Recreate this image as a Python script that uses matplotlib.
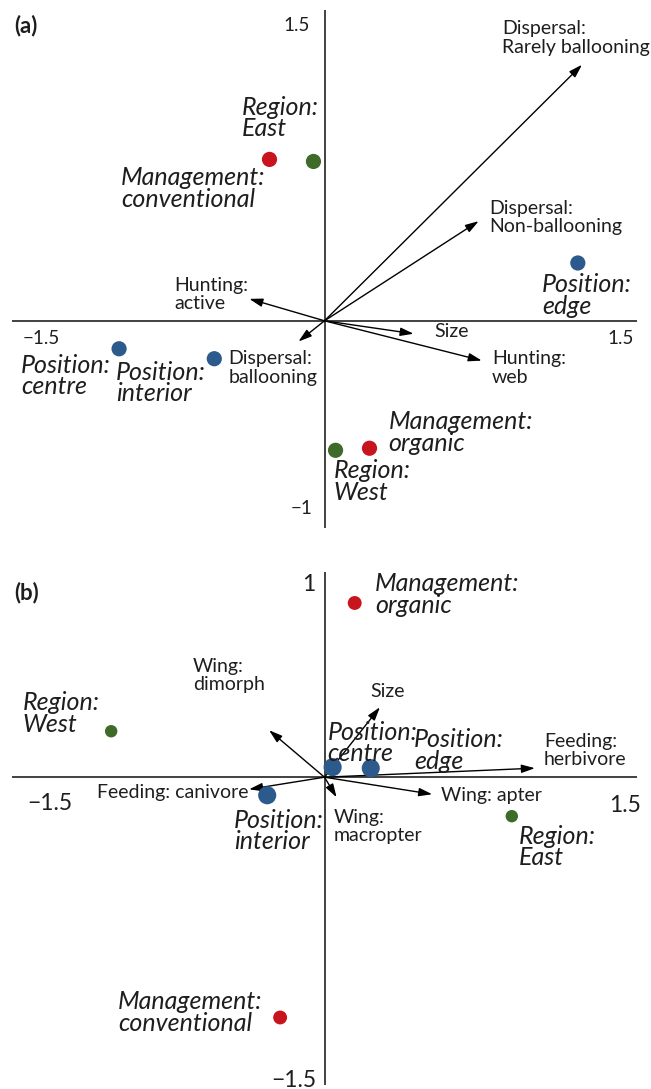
import matplotlib
import matplotlib.pyplot as plt

matplotlib.rcParams['font.family'] = ['Lato', 'DejaVu Sans']

RED = '#c8141c'
GREEN = '#3e6a2a'
BLUE = '#2c5a8c'
TXT = '#1e1e1e'

# ---- panel (a): spiders ----
a_pt_names = ["Management: conventional", "Region: East", "Position: edge",
              "Position: centre", "Position: interior", "Region: West",
              "Management: organic"]
a_pt_x = [-0.264, -0.053, 1.216, -0.986, -0.529, 0.053, 0.216]
a_pt_y = [0.779, 0.769, 0.279, -0.135, -0.183, -0.625, -0.615]
a_pt_col = [RED, GREEN, BLUE, BLUE, BLUE, GREEN, RED]

a_arr_names = ["Dispersal: Rarely ballooning", "Dispersal: Non-ballooning",
               "Hunting: active", "Dispersal: ballooning", "Size", "Hunting: web"]
a_arr_x = [1.236, 0.740, -0.361, -0.125, 0.428, 0.755]
a_arr_y = [1.236, 0.481, 0.106, -0.100, -0.0625, -0.192]

# ---- panel (b): carabids ----
b_pt_names = ["Management: organic", "Region: West", "Position: centre",
              "Position: edge", "Position: interior", "Region: East",
              "Management: conventional"]
b_pt_x = [0.145, -1.024, 0.039, 0.222, -0.275, 0.899, -0.213]
b_pt_y = [0.849, 0.224, 0.049, 0.044, -0.088, -0.190, -1.171]
b_pt_col = [RED, GREEN, BLUE, BLUE, BLUE, GREEN, RED]
b_pt_size = [100, 80, 170, 170, 170, 80, 100]

b_arr_names = ["Size", "Wing: dimorph", "Feeding: herbivore",
               "Feeding: canivore", "Wing: apter", "Wing: macropter"]
b_arr_x = [0.266, -0.266, 1.010, -0.362, 0.517, 0.058]
b_arr_y = [0.341, 0.229, 0.044, -0.059, -0.083, -0.098]

# label layout (x, y, text, italic, ha)
a_labels = [
    (0.851, 1.365, "Dispersal:\nRarely ballooning", False, 'left'),
    (-0.399, 0.978, "Region:\nEast", True, 'left'),
    (-0.976, 0.639, "Management:\nconventional", True, 'left'),
    (0.793, 0.498, "Dispersal:\nNon-ballooning", False, 'left'),
    (1.043, 0.123, "Position:\nedge", True, 'left'),
    (-0.721, 0.127, "Hunting:\nactive", False, 'left'),
    (0.529, -0.053, "Size", False, 'left'),
    (0.803, -0.228, "Hunting:\nweb", False, 'left'),
    (-0.462, -0.228, "Dispersal:\nballooning", False, 'left'),
    (-1.457, -0.267, "Position:\ncentre", True, 'left'),
    (-1.0, -0.300, "Position:\ninterior", True, 'left'),
    (0.308, -0.538, "Management:\norganic", True, 'left'),
    (0.043, -0.776, "Region:\nWest", True, 'left'),
]
a_ticks = [(-0.072, 1.423, "1.5", 'right'), (-0.06, -0.904, "\u22121", 'right'),
           (-1.447, -0.087, "\u22121.5", 'left'), (1.486, -0.087, "1.5", 'right')]

b_labels = [
    (0.242, 0.890, "Management:\norganic", True, 'left'),
    (-1.449, 0.310, "Region:\nWest", True, 'left'),
    (-0.633, 0.495, "Wing:\ndimorph", False, 'left'),
    (0.222, 0.420, "Size", False, 'left'),
    (0.014, 0.166, "Position:\ncentre", True, 'left'),
    (0.430, 0.129, "Position:\nedge", True, 'left'),
    (1.053, 0.129, "Feeding:\nherbivore", False, 'left'),
    (-0.367, -0.073, "Feeding: canivore", False, 'right'),
    (-0.435, -0.261, "Position:\ninterior", True, 'left'),
    (0.043, -0.241, "Wing:\nmacropter", False, 'left'),
    (0.560, -0.088, "Wing: apter", False, 'left'),
    (0.932, -0.339, "Region:\nEast", True, 'left'),
    (-0.990, -1.146, "Management:\nconventional", True, 'left'),
]
b_ticks = [(-0.043, 0.941, "1", 'right'), (-0.04, -1.478, "\u22121.5", 'right'),
           (-1.425, -0.130, "\u22121.5", 'left'), (1.517, -0.137, "1.5", 'right')]

fig = plt.figure(figsize=(6.51, 10.89), dpi=100)
ax_a = fig.add_axes([12/651, 1 - 528/1089, 625/651, 518/1089])
ax_b = fig.add_axes([12/651, 1 - 1085/1089, 625/651, 513/1089])


def draw(ax, ylim, px, py, pc, ps, ax_x, ax_y, labels, ticks, tick_fs):
    ax.set_xlim(-1.5, 1.5)
    ax.set_ylim(*ylim)
    ax.axis('off')
    ax.axhline(0, color='#333333', lw=1.3, zorder=1)
    ax.axvline(0, color='#333333', lw=1.3, zorder=1)
    for x, y in zip(ax_x, ax_y):
        ax.annotate('', xy=(x, y), xytext=(0, 0),
                    arrowprops=dict(arrowstyle='-|>,head_length=0.8,head_width=0.25',
                                    color='black', lw=1.0, shrinkA=0, shrinkB=0))
    ax.scatter(px, py, s=ps, c=pc, zorder=3, linewidths=0)
    for x, y, t, it, ha in labels:
        if it:
            ax.text(x, y, t, ha=ha, va='center', fontsize=18, style='italic',
                    color=TXT, linespacing=0.92, zorder=4)
        else:
            ax.text(x, y, t, ha=ha, va='center', fontsize=14, color=TXT,
                    linespacing=1.1, zorder=4)
    for x, y, t, ha in ticks:
        ax.text(x, y, t, ha=ha, va='center', fontsize=tick_fs, color=TXT)


draw(ax_a, (-1.0, 1.5), a_pt_x, a_pt_y, a_pt_col, 120, a_arr_x, a_arr_y,
     a_labels, a_ticks, 13.5)
draw(ax_b, (-1.5, 1.0), b_pt_x, b_pt_y, b_pt_col, b_pt_size, b_arr_x, b_arr_y,
     b_labels, b_ticks, 16.5)

fig.text(14/651, 1 - 26/1089, "(a)", fontsize=16, fontweight='bold', va='center', color=TXT)
fig.text(14/651, 1 - 593/1089, "(b)", fontsize=16, fontweight='bold', va='center', color=TXT)

fig.savefig('out.png', dpi=100)
